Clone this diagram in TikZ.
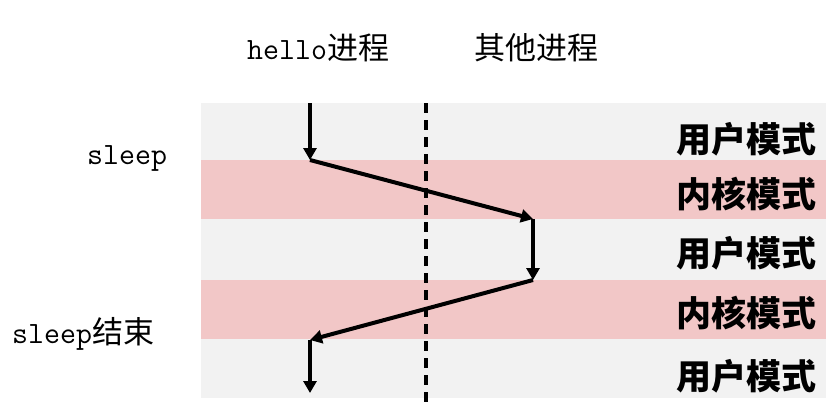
\documentclass[tikz,border=0pt]{standalone}
\usepackage{fontspec}
\newfontfamily\cjk{Noto Sans CJK SC}
\usetikzlibrary{arrows.meta}
\definecolor{bandgray}{HTML}{F2F2F2}
\definecolor{bandpink}{HTML}{F2C7C7}
\tikzset{
  userband/.style={fill=bandgray},
  kernband/.style={fill=bandpink},
  modelabel/.style={inner sep=0pt, anchor=east, font=\cjk\bfseries\fontsize{35}{40}\selectfont},
  proclabel/.style={inner sep=0pt, anchor=west, font=\fontsize{31}{36}\selectfont},
  flow/.style={line width=4pt, -{Triangle[length=12pt,width=13pt]}},
  divider/.style={line width=4pt, dash pattern=on 10pt off 7pt}
}
\begin{document}
\begin{tikzpicture}[x=1pt,y=-1pt]
\useasboundingbox (0,0) rectangle (836,408);
% bands
\fill[userband] (201,103) rectangle (826,160);
\fill[kernband] (201,160) rectangle (826,219);
\fill[userband] (201,219) rectangle (826,280);
\fill[kernband] (201,280) rectangle (826,339);
\fill[userband] (201,339) rectangle (826,398);
% mode labels
\node[modelabel] (m1) at (817,139) {用户模式};
\node[modelabel] (m2) at (817,194) {内核模式};
\node[modelabel] (m3) at (817,253) {用户模式};
\node[modelabel] (m4) at (817,313) {内核模式};
\begin{scope}
\clip (201,339) rectangle (826,398);
\node[modelabel] (m5) at (817,376) {用户模式};
\end{scope}
% process labels
\node[proclabel] (hello) at (247,48) {\ttfamily hello\cjk 进程};
\node[proclabel] (other) at (474,48) {\cjk 其他进程};
\node[proclabel] (sleep) at (87,158) {\ttfamily sleep};
\node[proclabel] (sleepend) at (12,334) {\ttfamily sleep\cjk 结束};
% divider
\coordinate (d0) at (426,103);
\coordinate (d1) at (426,404);
\draw[divider] (d0) -- (d1);
% flow
\coordinate (a0) at (310,103);
\coordinate (a1) at (310,160);
\coordinate (b1) at (533,219);
\coordinate (b2) at (533,280);
\coordinate (c1) at (310,340);
\coordinate (c2) at (310,393);
\draw[flow] (a0) -- (a1);
\draw[flow] (a1) -- (b1);
\draw[flow] (b1) -- (b2);
\draw[flow] (b2) -- (c1);
\draw[flow] (c1) -- (c2);
\end{tikzpicture}
\end{document}
